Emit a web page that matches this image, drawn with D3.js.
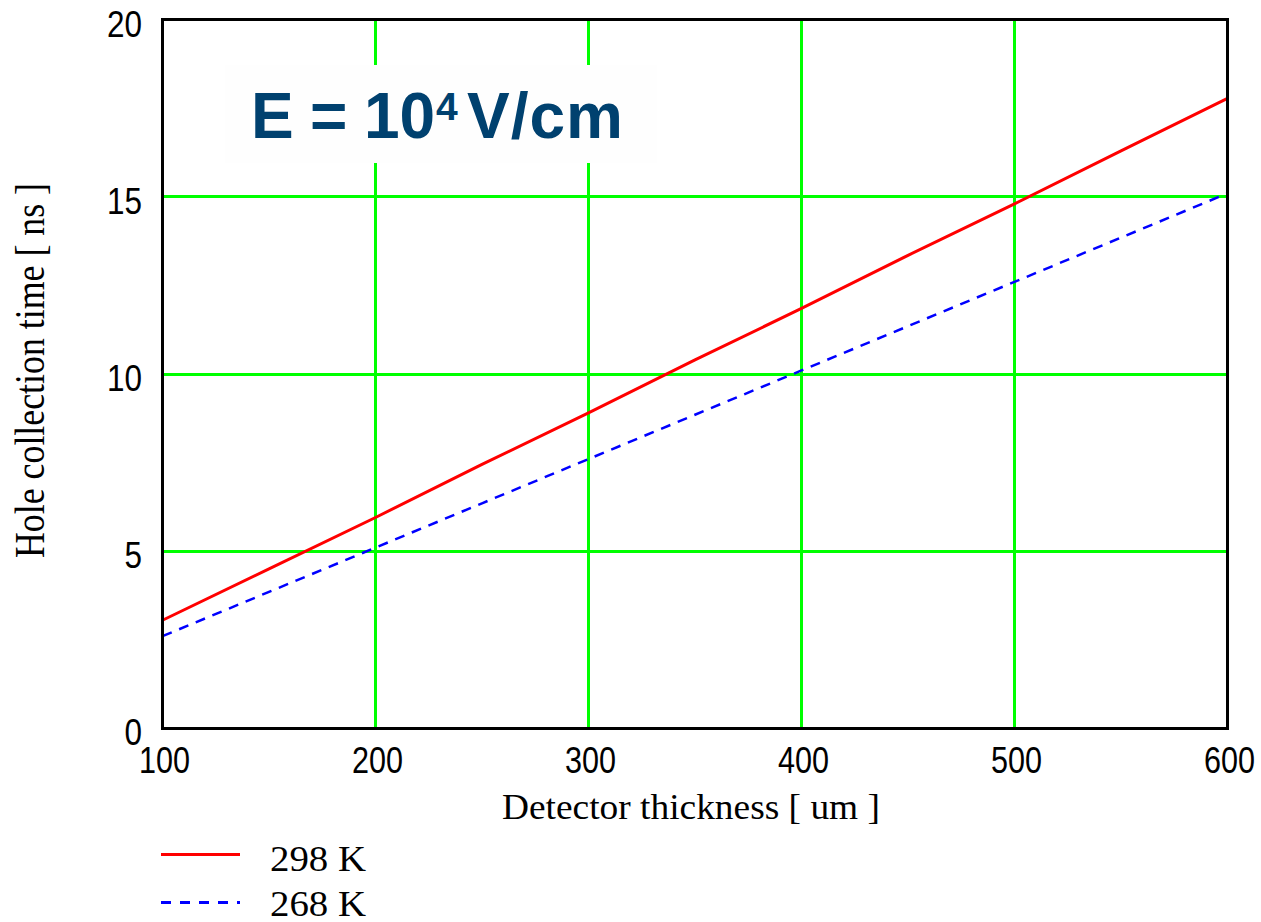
<!DOCTYPE html>
<html>
<head>
<meta charset="utf-8">
<script src="https://cdn.jsdelivr.net/npm/d3@7"></script>
<style>
  html, body { margin: 0; padding: 0; background: #ffffff; }
  svg { display: block; }
</style>
</head>
<body>
<svg id="chart" width="1261" height="922"></svg>
<script>
// Hole collection time vs detector thickness at E = 1e4 V/cm
const thickness = [100, 150, 200, 250, 300, 350, 400, 450, 500, 550, 600];
const time298K = [3.05, 4.5, 5.95, 7.45, 8.9, 10.4, 11.85, 13.35, 14.8, 16.3, 17.78];
const time268K = [2.6, 3.85, 5.1, 6.35, 7.6, 8.85, 10.1, 11.35, 12.6, 13.85, 15.1];
const xTicks = [100, 200, 300, 400, 500, 600];
const yTicks = [0, 5, 10, 15, 20];
const xGrid = [200, 300, 400, 500];
const yGrid = [5, 10, 15];
const seriesNames = ["298 K", "268 K"];

const svg = d3.select("#chart");
const plot = { left: 162.5, right: 1227.5, top: 19.7, bottom: 728.3 };

const x = d3.scaleLinear().domain([100, 600]).range([plot.left, plot.right]);
const y = d3.scaleLinear().domain([0, 20]).range([plot.bottom, plot.top]);

const green = "#00ff00";

// grid
svg.append("g").selectAll("line").data(xGrid).join("line")
  .attr("x1", d => x(d)).attr("x2", d => x(d))
  .attr("y1", plot.top).attr("y2", plot.bottom)
  .attr("stroke", green).attr("stroke-width", 3)
  .attr("shape-rendering", "crispEdges");
svg.append("g").selectAll("line").data(yGrid).join("line")
  .attr("x1", plot.left).attr("x2", plot.right)
  .attr("y1", d => y(d)).attr("y2", d => y(d))
  .attr("stroke", green).attr("stroke-width", 3)
  .attr("shape-rendering", "crispEdges");

// annotation box with the field strength
svg.append("rect")
  .attr("x", 225).attr("y", 65).attr("width", 432).attr("height", 98)
  .attr("fill", "#fefefe");
const ann = svg.append("text")
  .attr("y", 138)
  .attr("font-family", "'Liberation Sans', Arial, sans-serif")
  .attr("font-weight", "bold").attr("fill", "#00416f")
  .attr("font-size", 64);
ann.append("tspan").attr("x", 251).text("E");
ann.append("tspan").attr("x", 310).text("=");
ann.append("tspan").attr("x", 364).text("10");
ann.append("tspan").attr("x", 436).attr("y", 120).attr("font-size", 39).text("4");
ann.append("tspan").attr("x", 467).attr("y", 138).attr("letter-spacing", 1).text("V/cm");

// data lines
const line = d3.line().x(d => x(d[0])).y(d => y(d[1]));
svg.append("path")
  .datum(d3.zip(thickness, time298K))
  .attr("d", line)
  .attr("fill", "none").attr("stroke", "#ff0000").attr("stroke-width", 3);
svg.append("path")
  .datum(d3.zip(thickness, time268K))
  .attr("d", line)
  .attr("fill", "none").attr("stroke", "#0000ff").attr("stroke-width", 2.5)
  .attr("stroke-dasharray", "10,8");

// frame
svg.append("rect")
  .attr("x", plot.left).attr("y", plot.top)
  .attr("width", plot.right - plot.left).attr("height", plot.bottom - plot.top)
  .attr("fill", "none").attr("stroke", "#000").attr("stroke-width", 3)
  .attr("shape-rendering", "crispEdges");

// axes
const tickFont = "'Liberation Sans', Arial, sans-serif";
const xAxis = svg.append("g")
  .attr("transform", `translate(0,${plot.bottom})`)
  .call(d3.axisBottom(x).tickValues(xTicks).tickSize(0).tickFormat(d3.format("d")));
xAxis.select(".domain").remove();
xAxis.selectAll("text")
  .attr("font-family", tickFont).attr("font-size", 37).attr("fill", "#000")
  .attr("y", 773 - plot.bottom).attr("dy", 0).attr("dx", 1.5)
  .attr("textLength", d => String(d).length * 17)
  .attr("lengthAdjust", "spacingAndGlyphs");

const yAxis = svg.append("g")
  .attr("transform", `translate(${plot.left},0)`)
  .call(d3.axisLeft(y).tickValues(yTicks).tickSize(0).tickFormat(d3.format("d")));
yAxis.select(".domain").remove();
yAxis.selectAll("text")
  .attr("font-family", tickFont).attr("font-size", 37).attr("fill", "#000")
  .attr("x", -(plot.left - 142)).attr("y", 16.5).attr("dy", 0)
  .attr("text-anchor", "end")
  .attr("textLength", d => String(d).length * 17.5)
  .attr("lengthAdjust", "spacingAndGlyphs");

// axis titles
const serif = "'Liberation Serif', 'Times New Roman', serif";
svg.append("text")
  .attr("x", 502).attr("y", 819)
  .attr("font-family", serif).attr("font-size", 35)
  .attr("textLength", 378).attr("lengthAdjust", "spacingAndGlyphs")
  .text("Detector thickness [ um ]");
svg.append("text")
  .attr("transform", "translate(44,558) rotate(-90)")
  .attr("font-family", serif).attr("font-size", 42)
  .attr("textLength", 375).attr("lengthAdjust", "spacingAndGlyphs")
  .text("Hole collection time [ ns ]");

// legend
const legend = svg.append("g");
const legendRows = [
  { name: seriesNames[0], color: "#ff0000", dash: null, width: 3, ly: 854, ty: 871 },
  { name: seriesNames[1], color: "#0000ff", dash: "10,9", width: 3, ly: 902, ty: 916 }
];
legendRows.forEach(r => {
  legend.append("line")
    .attr("x1", 161).attr("x2", 240).attr("y1", r.ly).attr("y2", r.ly)
    .attr("stroke", r.color).attr("stroke-width", r.width)
    .attr("stroke-dasharray", r.dash)
    .attr("shape-rendering", "crispEdges");
  legend.append("text")
    .attr("x", 270).attr("y", r.ty)
    .attr("font-family", serif).attr("font-size", 36)
    .attr("textLength", 96).attr("lengthAdjust", "spacingAndGlyphs")
    .text(r.name);
});
</script>
</body>
</html>
